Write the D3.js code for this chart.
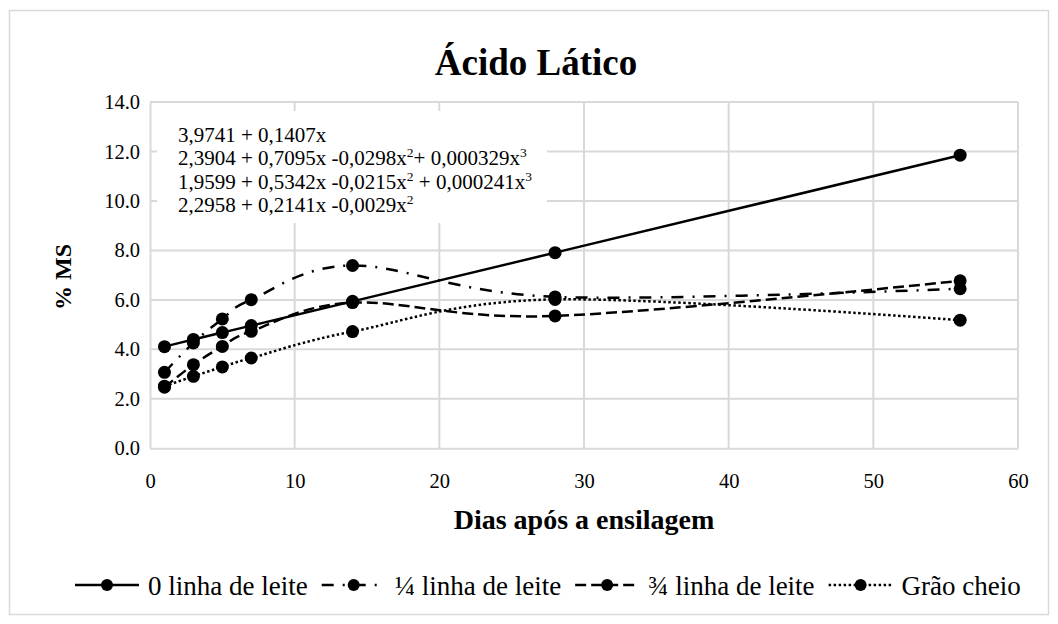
<!DOCTYPE html>
<html>
<head>
<meta charset="utf-8">
<script src="https://cdn.jsdelivr.net/npm/d3@7"></script>
<style>
  body { margin: 0; background: #fff; }
  text { font-family: 'Liberation Serif', 'Times New Roman', serif; fill: #000; }
</style>
</head>
<body>
<div id="chart"></div>
<script>
// dados
const dias = [1, 3, 5, 7, 14, 28, 56]
const leite0 = [4.11, 4.40, 4.68, 4.96, 5.94, 7.91, 11.85]
const leite14 = [3.07, 4.26, 5.23, 6.01, 7.39, 6.12, 6.45]
const leite34 = [2.47, 3.38, 4.12, 4.73, 5.89, 5.35, 6.77]
const graoCheio = [2.51, 2.91, 3.29, 3.65, 4.72, 6.02, 5.18]

const seriesNames = ['0 linha de leite', '¼ linha de leite', '¾ linha de leite', 'Grão cheio']
const xTicks = [0, 10, 20, 30, 40, 50, 60]
const yTicks = [0, 2, 4, 6, 8, 10, 12, 14]
// cada equacao em pedacos: [texto, sobrescrito?]
const equations = [
  [['3,9741 + 0,1407x', false]],
  [['2,3904 + 0,7095x -0,0298x', false], ['2', true], ['+ 0,000329x', false], ['3', true]],
  [['1,9599 + 0,5342x -0,0215x', false], ['2', true], [' + 0,000241x', false], ['3', true]],
  [['2,2958 + 0,2141x -0,0029x', false], ['2', true]]
]

const W = 1058
const H = 624
const margin = { top: 102, right: 40, bottom: 176, left: 150 }
const width = 1018 - margin.left
const height = 448.3 - margin.top

const dashes = [null, '12,9,2,9', '11,5', '2.5,2.5']
const allValues = [leite0, leite14, leite34, graoCheio]
const series = seriesNames.map((name, i) => ({
  name: name,
  dash: dashes[i],
  points: dias.map((d, j) => ({ x: d, y: allValues[i][j] }))
}))

const root = d3
  .select('#chart')
  .append('svg')
  .attr('width', W)
  .attr('height', H)

// moldura do grafico
root
  .append('rect')
  .attr('x', 9.5)
  .attr('y', 10.5)
  .attr('width', 1039)
  .attr('height', 604)
  .attr('fill', '#fff')
  .attr('stroke', '#d9d9d9')
  .attr('stroke-width', 1.5)

root
  .append('text')
  .attr('x', 536)
  .attr('y', 75)
  .attr('text-anchor', 'middle')
  .attr('font-size', 37)
  .attr('font-weight', 'bold')
  .text('Ácido Lático')

const svg = root
  .append('g')
  .attr('transform', 'translate(' + margin.left + ',' + margin.top + ')')

const xPositionScale = d3.scaleLinear().domain([0, 60]).range([0, width])
const yPositionScale = d3.scaleLinear().domain([0, 14]).range([height, 0])

// grades
svg
  .append('g')
  .attr('class', 'grid-y')
  .selectAll('line')
  .data(yTicks.slice(1))
  .enter()
  .append('line')
  .attr('x1', 0)
  .attr('x2', width)
  .attr('y1', d => yPositionScale(d))
  .attr('y2', d => yPositionScale(d))
  .attr('stroke', '#d9d9d9')
  .attr('stroke-width', 2)

svg
  .append('g')
  .attr('class', 'grid-x')
  .selectAll('line')
  .data(xTicks.slice(1))
  .enter()
  .append('line')
  .attr('x1', d => xPositionScale(d))
  .attr('x2', d => xPositionScale(d))
  .attr('y1', 0)
  .attr('y2', height)
  .attr('stroke', '#d9d9d9')
  .attr('stroke-width', 2)

// eixos
const xAxis = d3
  .axisBottom(xPositionScale)
  .tickValues(xTicks)
  .tickSize(0)
  .tickPadding(25)
  .tickFormat(d3.format('d'))

svg
  .append('g')
  .attr('class', 'axis x-axis')
  .attr('transform', 'translate(0,' + height + ')')
  .call(xAxis)

const yAxis = d3
  .axisLeft(yPositionScale)
  .tickValues(yTicks)
  .tickSize(0)
  .tickPadding(10)
  .tickFormat(d3.format('.1f'))

svg
  .append('g')
  .attr('class', 'axis y-axis')
  .call(yAxis)

svg.selectAll('.axis .domain').attr('stroke', '#d9d9d9').attr('stroke-width', 2)
svg.selectAll('.axis text')
  .attr('font-size', 20.5)
  .attr('font-family', "'Liberation Serif', 'Times New Roman', serif")
svg.selectAll('.x-axis text').attr('dy', '0.71em')

// caixa das equacoes (fundo branco)
svg
  .append('rect')
  .attr('x', 7)
  .attr('y', 9)
  .attr('width', 390)
  .attr('height', 112)
  .attr('fill', '#fff')

const eqText = svg
  .append('g')
  .attr('class', 'equations')
  .selectAll('text')
  .data(equations)
  .enter()
  .append('text')
  .attr('x', 28)
  .attr('y', (d, i) => 39.5 + i * 23.6)
  .attr('font-size', 21)

eqText
  .selectAll('tspan')
  .data(d => d)
  .enter()
  .append('tspan')
  .attr('font-size', d => (d[1] ? 13.5 : 21))
  .attr('dy', (d, i, nodes) => {
    const prev = i > 0 ? d3.select(nodes[i - 1]).datum()[1] : false
    if (d[1] && !prev) return -8
    if (!d[1] && prev) return 8
    return 0
  })
  .text(d => d[0])

// linhas suavizadas
const line = d3
  .line()
  .x(d => xPositionScale(d.x))
  .y(d => yPositionScale(d.y))
  .curve(d3.curveCardinal.tension(0))

svg
  .selectAll('.serie')
  .data(series)
  .enter()
  .append('path')
  .attr('class', 'serie')
  .attr('d', d => line(d.points))
  .attr('fill', 'none')
  .attr('stroke', '#000')
  .attr('stroke-width', 2.5)
  .attr('stroke-dasharray', d => d.dash)

series.forEach(s => {
  svg
    .append('g')
    .selectAll('circle')
    .data(s.points)
    .enter()
    .append('circle')
    .attr('cx', d => xPositionScale(d.x))
    .attr('cy', d => yPositionScale(d.y))
    .attr('r', 6.5)
    .attr('fill', '#000')
})

// titulos dos eixos
root
  .append('text')
  .attr('x', 584)
  .attr('y', 529)
  .attr('text-anchor', 'middle')
  .attr('font-size', 28)
  .attr('font-weight', 'bold')
  .text('Dias após a ensilagem')

root
  .append('text')
  .attr('transform', 'translate(71,277) rotate(-90)')
  .attr('text-anchor', 'middle')
  .attr('font-size', 24)
  .attr('font-weight', 'bold')
  .text('% MS')

// legenda
const legend = root.append('g').attr('class', 'legend')
const lineLen = 64
const textGap = 9
const itemGap = 14
let lx = 75
series.forEach(s => {
  const g = legend.append('g').attr('transform', 'translate(' + lx + ',585)')
  g.append('line')
    .attr('x1', 0)
    .attr('x2', lineLen)
    .attr('stroke', '#000')
    .attr('stroke-width', 2.5)
    .attr('stroke-dasharray', s.dash)
  g.append('circle')
    .attr('cx', lineLen / 2)
    .attr('r', 6)
    .attr('fill', '#000')
  const t = g.append('text')
    .attr('x', lineLen + textGap)
    .attr('y', 10)
    .attr('font-size', 27)
    .text(s.name)
  lx += lineLen + textGap + t.node().getComputedTextLength() + itemGap
})
</script>
</body>
</html>
